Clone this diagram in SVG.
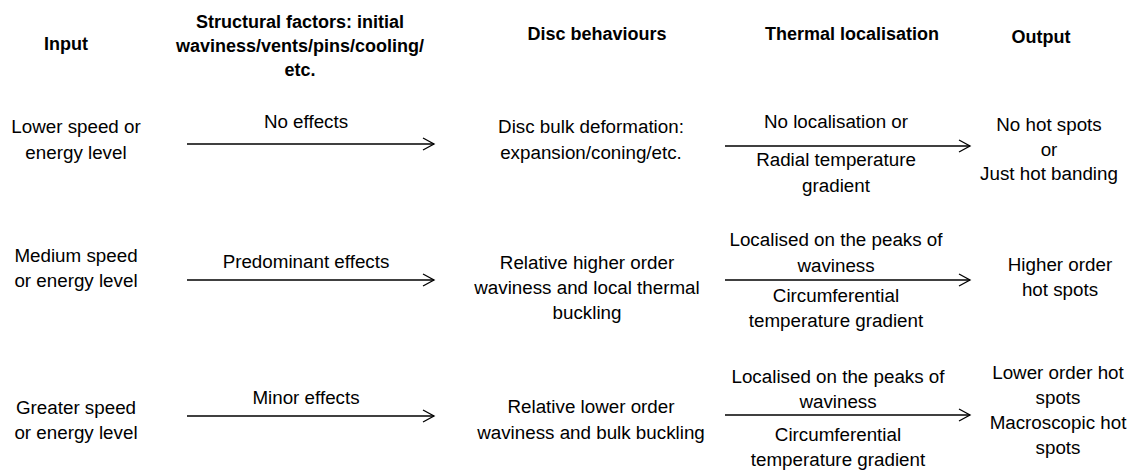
<svg xmlns="http://www.w3.org/2000/svg" width="1138" height="471" viewBox="0 0 1138 471">
<style>
text{font-family:"Liberation Sans",Arial,sans-serif;font-size:18.8px;fill:#000;text-anchor:middle}
.h{font-weight:bold;font-size:18px}
.c line{stroke:#000;stroke-width:1.3}
</style>
<defs>
<marker id="a" markerWidth="14" markerHeight="14" refX="12" refY="7" orient="auto" markerUnits="userSpaceOnUse">
<path d="M1,1 L12,7 L1,13" fill="none" stroke="#000" stroke-width="1.3"/>
</marker>
</defs>
<rect width="1138" height="471" fill="#fff"/>
<g id="headers">
<text class="h" x="66" y="50">Input</text>
<text class="h" x="300" y="28">Structural factors: initial</text>
<text class="h" x="300" y="52">waviness/vents/pins/cooling/</text>
<text class="h" x="300" y="76">etc.</text>
<text class="h" x="597" y="40">Disc behaviours</text>
<text class="h" x="852" y="40">Thermal localisation</text>
<text class="h" x="1041" y="43">Output</text>
</g>
<g class="c" id="connectors">
<line x1="187" y1="144" x2="434" y2="144" marker-end="url(#a)"/>
<line x1="725" y1="146" x2="970" y2="146" marker-end="url(#a)"/>
<line x1="187" y1="280" x2="434" y2="280" marker-end="url(#a)"/>
<line x1="725" y1="280" x2="970" y2="280" marker-end="url(#a)"/>
<line x1="187" y1="416" x2="434" y2="416" marker-end="url(#a)"/>
<line x1="725" y1="415" x2="970" y2="415" marker-end="url(#a)"/>
</g>
<g id="row1">
<g id="in1"><text x="76" y="133">Lower speed or</text><text x="76" y="159">energy level</text></g>
<g id="sf1"><text x="306" y="128">No effects</text></g>
<g id="db1"><text x="591" y="133">Disc bulk deformation:</text><text x="591" y="159">expansion/coning/etc.</text></g>
<g id="tl1"><text x="836" y="128">No localisation or</text><text x="836" y="166">Radial temperature</text><text x="836" y="192">gradient</text></g>
<g id="out1"><text x="1049" y="131">No hot spots</text><text x="1049" y="156">or</text><text x="1049" y="180">Just hot banding</text></g>
</g>
<g id="row2">
<g id="in2"><text x="76" y="262">Medium speed</text><text x="76" y="287">or energy level</text></g>
<g id="sf2"><text x="306" y="268">Predominant effects</text></g>
<g id="db2"><text x="587" y="269">Relative higher order</text><text x="587" y="294">waviness and local thermal</text><text x="587" y="319">buckling</text></g>
<g id="tl2"><text x="836" y="246">Localised on the peaks of</text><text x="836" y="272">waviness</text><text x="836" y="302">Circumferential</text><text x="836" y="327">temperature gradient</text></g>
<g id="out2"><text x="1060" y="271">Higher order</text><text x="1060" y="296">hot spots</text></g>
</g>
<g id="row3">
<g id="in3"><text x="76" y="414">Greater speed</text><text x="76" y="439">or energy level</text></g>
<g id="sf3"><text x="306" y="404">Minor effects</text></g>
<g id="db3"><text x="591" y="413">Relative lower order</text><text x="591" y="439">waviness and bulk buckling</text></g>
<g id="tl3"><text x="838" y="383">Localised on the peaks of</text><text x="838" y="408">waviness</text><text x="838" y="441">Circumferential</text><text x="838" y="466">temperature gradient</text></g>
<g id="out3"><text x="1058" y="379">Lower order hot</text><text x="1058" y="404">spots</text><text x="1058" y="429">Macroscopic hot</text><text x="1058" y="454">spots</text></g>
</g>
</svg>
